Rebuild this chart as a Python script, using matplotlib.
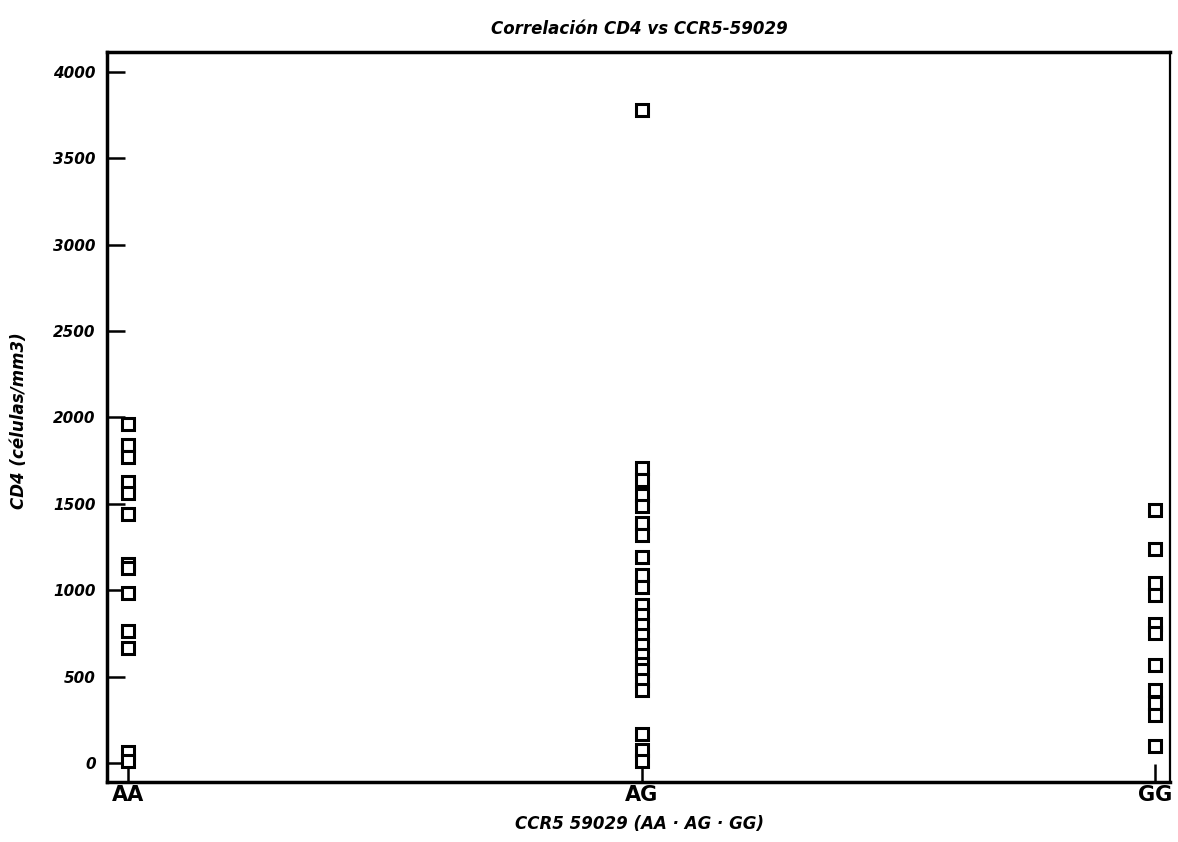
import numpy as np
import matplotlib.pyplot as plt

# --- Datos ---
genotypes = ['AA', 'AG', 'GG']
cd4_aa = [1960, 1840, 1770, 1625, 1560, 1440, 1150, 1130, 985, 765, 665, 65, 10]
cd4_ag = [1705, 1640, 1550, 1485, 1390, 1320, 1195, 1090, 1020, 915, 855, 800,
          740, 685, 625, 570, 540, 480, 420, 170, 75, 10, 3780]
cd4_gg = [1465, 1240, 1040, 975, 805, 750, 565, 420, 345, 275, 100]
y_ticks = [0, 500, 1000, 1500, 2000, 2500, 3000, 3500, 4000]

fam = ['Liberation Sans Narrow', 'DejaVu Sans']
plt.rcParams['font.family'] = fam

fig = plt.figure(figsize=(11.78, 8.42), dpi=100)
ax = fig.add_axes([0.0908, 0.0713, 0.9024, 0.8669])

for i, vals in enumerate([cd4_aa, cd4_ag, cd4_gg]):
    ax.plot(np.full(len(vals), i), vals, 's', ms=8, mfc='white', mec='black',
            mew=2.2, ls='none', zorder=3)

ax.set_xlim(-0.041, 2.029)
ax.set_ylim(-110, 4115)
ax.set_xticks(range(3))
ax.set_xticklabels(genotypes, fontsize=15, fontweight='bold')
ax.set_yticks(y_ticks)
ax.set_yticklabels([str(v) for v in y_ticks], fontsize=11, style='italic',
                   fontweight='semibold')
ax.tick_params(axis='both', direction='in', length=13, width=1.8, color='black')
ax.tick_params(axis='y', pad=8)
ax.tick_params(axis='x', pad=2)

for s in ax.spines.values():
    s.set_linewidth(2.5)
ax.spines['right'].set_linewidth(1.6)

fig.text(0.543, 0.966, 'Correlación CD4 vs CCR5-59029', ha='center', va='center',
         fontsize=12, style='italic', fontweight='semibold')
fig.text(0.543, 0.021, 'CCR5 59029 (AA · AG · GG)', ha='center', va='center',
         fontsize=12, style='italic', fontweight='semibold')
fig.text(0.016, 0.5, 'CD4 (células/mm3)', ha='center', va='center', rotation=90,
         fontsize=12, style='italic', fontweight='semibold')

fig.savefig('out.png', dpi=100, facecolor='white')
